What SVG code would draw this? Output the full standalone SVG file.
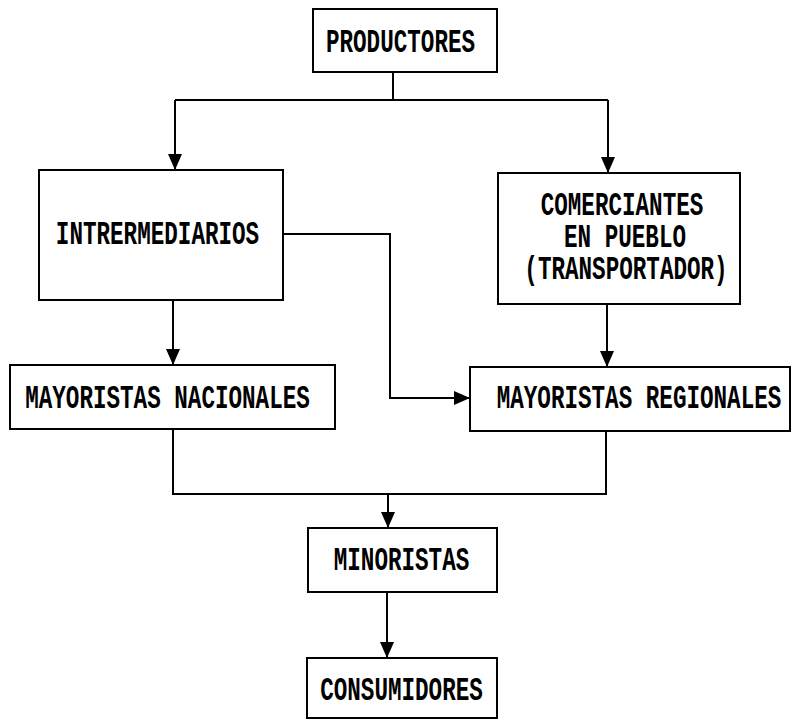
<svg xmlns="http://www.w3.org/2000/svg" width="792" height="722" viewBox="0 0 792 722">
<style>
.box{fill:#fff;stroke:#000;stroke-width:2}
.lbl{font-family:"Liberation Mono","Courier New",monospace;font-size:22.6px;font-weight:bold;fill:#000;text-anchor:middle}
.ln{fill:none;stroke:#000;stroke-width:2}
</style>
<defs>
<marker id="ah" viewBox="0 0 16 14" refX="16" refY="7" markerWidth="16" markerHeight="14" markerUnits="userSpaceOnUse" orient="auto">
<path d="M0,0 L16,7 L0,14 Z" fill="#000"/>
</marker>
</defs>
<rect width="792" height="722" fill="#fff"/>
<g id="connectors">
<path class="ln" d="M393,72 V100"/>
<path class="ln" d="M175,100 H608"/>
<path class="ln" d="M175,100 V170" marker-end="url(#ah)"/>
<path class="ln" d="M608,100 V173" marker-end="url(#ah)"/>
<path class="ln" d="M173,300 V365" marker-end="url(#ah)"/>
<path class="ln" d="M607,304 V367" marker-end="url(#ah)"/>
<path class="ln" d="M283,234 H390 V398 H470" marker-end="url(#ah)"/>
<path class="ln" d="M173,429 V494 H606 V431"/>
<path class="ln" d="M388,494 V528" marker-end="url(#ah)"/>
<path class="ln" d="M387,592 V658" marker-end="url(#ah)"/>
</g>
<g id="productores">
<rect class="box" x="313" y="9" width="184" height="63"/>
<text class="lbl" transform="translate(400.5,52) scale(1,1.5)">PRODUCTORES</text>
</g>
<g id="intermediarios">
<rect class="box" x="39" y="170" width="244" height="130"/>
<text class="lbl" transform="translate(157.5,244) scale(1,1.5)">INTRERMEDIARIOS</text>
</g>
<g id="comerciantes">
<rect class="box" x="498" y="173" width="242" height="131"/>
<text class="lbl" transform="translate(622,215) scale(1,1.5)">COMERCIANTES</text>
<text class="lbl" transform="translate(625,247) scale(1,1.5)">EN PUEBLO</text>
<text class="lbl" transform="translate(626,279) scale(1,1.5)">(TRANSPORTADOR)</text>
</g>
<g id="mayoristas-nacionales">
<rect class="box" x="10" y="365" width="325" height="64"/>
<text class="lbl" transform="translate(167.5,408) scale(1,1.5)">MAYORISTAS NACIONALES</text>
</g>
<g id="mayoristas-regionales">
<rect class="box" x="470" y="367" width="320" height="64"/>
<text class="lbl" transform="translate(639,408) scale(1,1.5)">MAYORISTAS REGIONALES</text>
</g>
<g id="minoristas">
<rect class="box" x="308" y="528" width="189" height="64"/>
<text class="lbl" transform="translate(401.5,570) scale(1,1.5)">MINORISTAS</text>
</g>
<g id="consumidores">
<rect class="box" x="307" y="658" width="190" height="60"/>
<text class="lbl" transform="translate(401.5,700) scale(1,1.5)">CONSUMIDORES</text>
</g>
</svg>
